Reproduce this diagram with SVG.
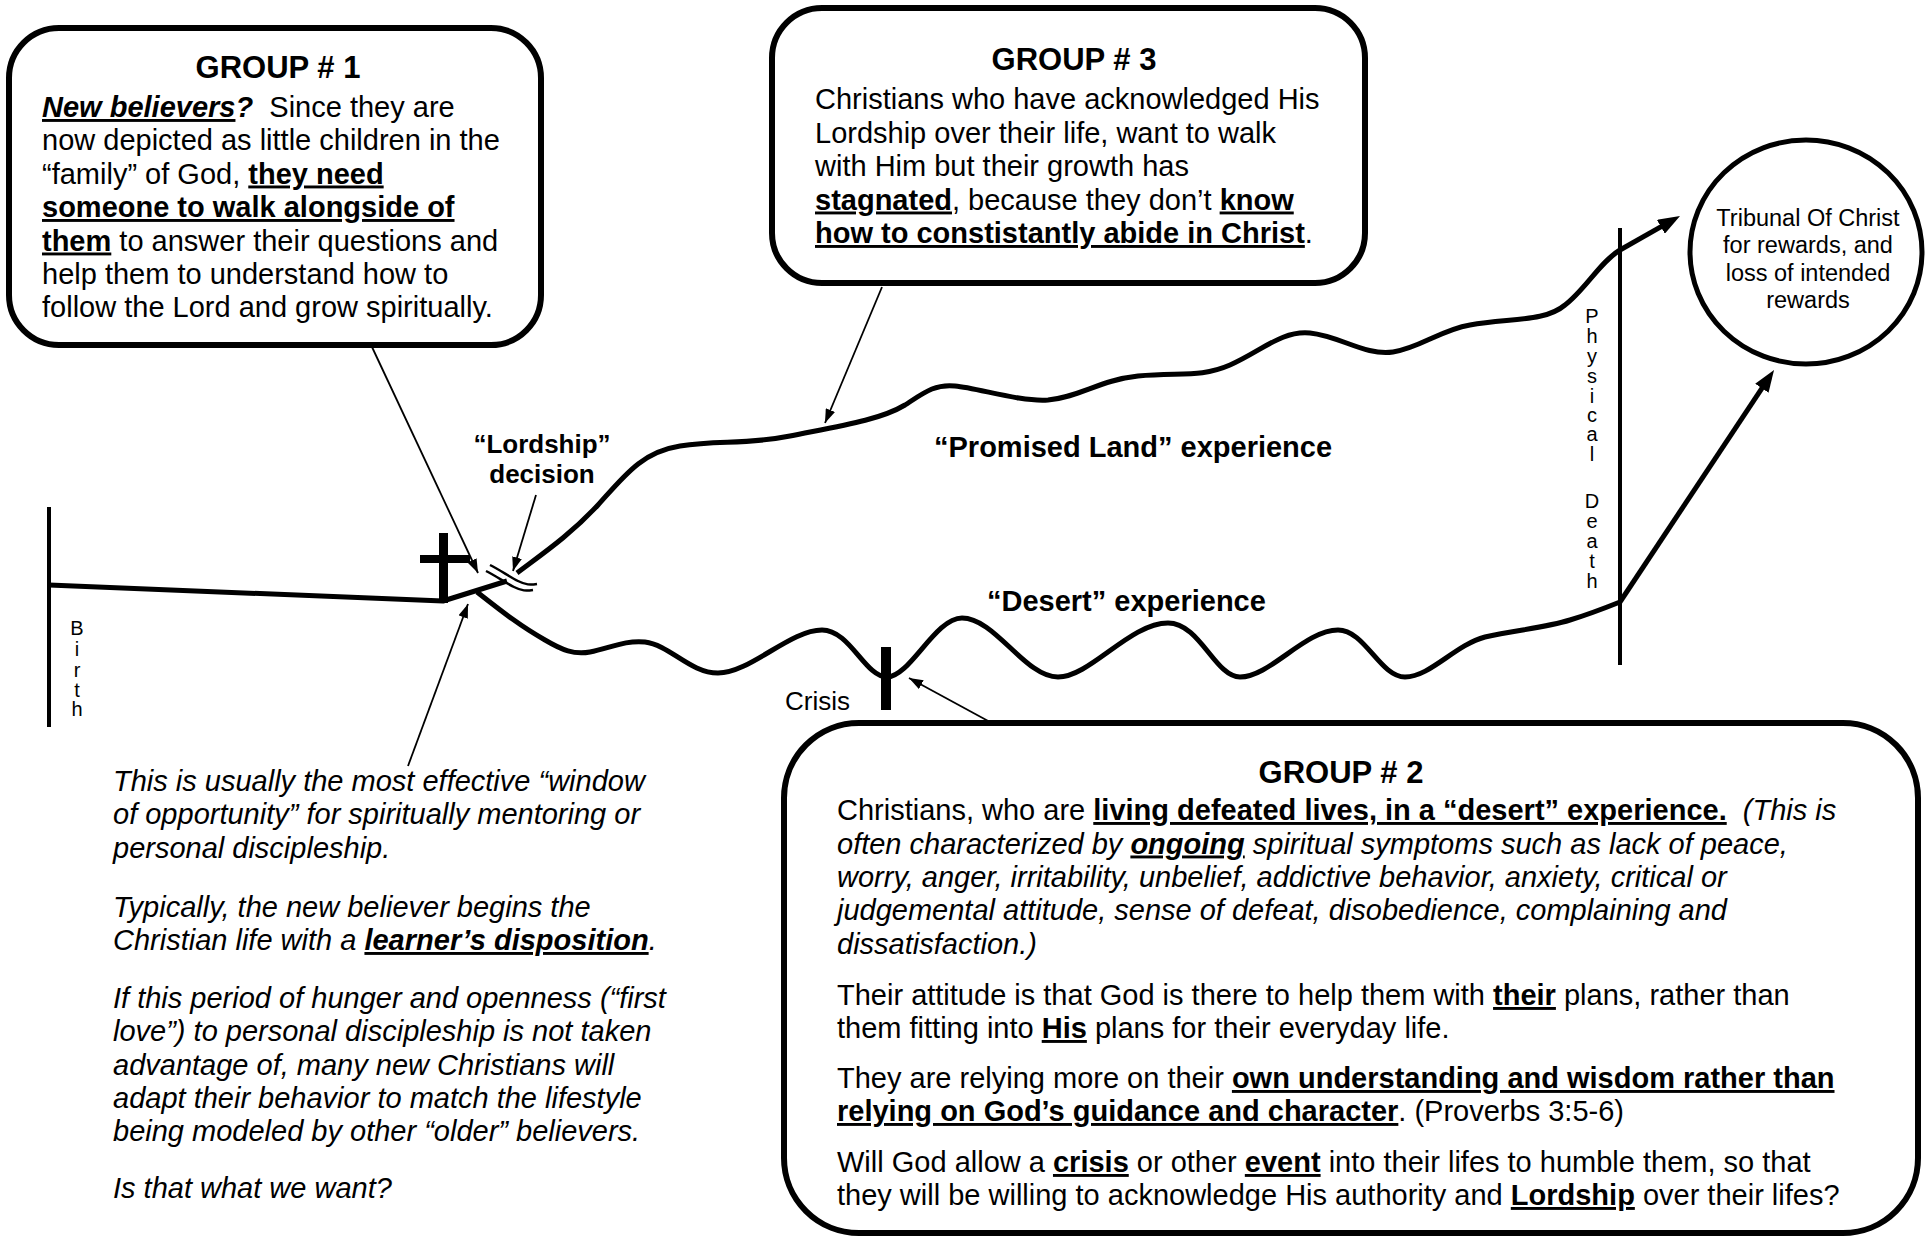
<svg xmlns="http://www.w3.org/2000/svg" width="1927" height="1238" viewBox="0 0 1927 1238">
<style>
text{font-family:"Liberation Sans",Arial,sans-serif;fill:#000}
.t{font-size:29px}
.h{font-size:31px;font-weight:bold;text-anchor:middle}
.b{font-weight:bold}
.i{font-style:italic}
.u{text-decoration:underline;text-decoration-thickness:3px}
.box{fill:#fff;stroke:#000;stroke-width:6}
.path{fill:none;stroke:#000;stroke-width:5;stroke-linejoin:round}
.thin{fill:none;stroke:#000;stroke-width:1.8}
.vl{font-size:20px;text-anchor:middle}
</style>
<defs>
<marker id="ah" viewBox="0 0 14 10" refX="14" refY="5" markerWidth="14" markerHeight="10" markerUnits="userSpaceOnUse" orient="auto"><path d="M0,0 L14,5 L0,10 z" fill="#000"/></marker>
<marker id="AH" viewBox="0 0 22 16" refX="12" refY="8" markerWidth="22" markerHeight="16" markerUnits="userSpaceOnUse" orient="auto"><path d="M0,0 L22,8 L0,16 z" fill="#000"/></marker>
</defs>
<rect width="1927" height="1238" fill="#fff"/>

<g id="birth">
<line x1="49" y1="507" x2="49" y2="727" stroke="#000" stroke-width="4"/>
<text class="vl"><tspan x="77" y="635">B</tspan><tspan x="77" y="656">i</tspan><tspan x="77" y="677">r</tspan><tspan x="77" y="697">t</tspan><tspan x="77" y="716">h</tspan></text>
</g>

<g id="death">
<line x1="1620" y1="228" x2="1620" y2="665" stroke="#000" stroke-width="4"/>
<text class="vl"><tspan x="1592" y="323">P</tspan><tspan x="1592" y="343">h</tspan><tspan x="1592" y="363">y</tspan><tspan x="1592" y="383">s</tspan><tspan x="1592" y="403">i</tspan><tspan x="1592" y="422">c</tspan><tspan x="1592" y="441">a</tspan><tspan x="1592" y="461">l</tspan><tspan x="1592" y="508">D</tspan><tspan x="1592" y="528">e</tspan><tspan x="1592" y="548">a</tspan><tspan x="1592" y="568">t</tspan><tspan x="1592" y="588">h</tspan></text>
</g>

<g id="connectors">
<path class="path" d="M49,585 L443,601 L507,581"/>
<path class="path" d="M517,573 C545,552 570,535 598,505 C625,475 642,452 680,446 C720,440 745,445 790,436 C840,426 880,420 905,405 C925,392 935,384 955,386 C978,388 1020,402 1048,400 C1080,397 1100,380 1138,376 C1180,372 1200,378 1230,365 C1260,352 1282,330 1310,333 C1340,336 1365,356 1393,352 C1420,348 1440,330 1470,325 C1510,318 1545,322 1565,305 C1585,290 1600,262 1620,250"/>
<path class="path" d="M477,592 C500,610 520,626 545,640 C562,650 574,655 590,652 C610,648 625,640 645,642 C670,645 690,673 718,673 C750,673 790,630 822,630 C850,630 865,677 887,677 C910,677 935,618 962,618 C995,618 1025,677 1058,677 C1090,677 1130,623 1168,623 C1200,623 1215,677 1240,677 C1270,677 1305,630 1338,630 C1365,630 1380,677 1405,677 C1430,677 1455,645 1485,637 C1515,630 1545,628 1570,620 C1590,614 1605,608 1620,602"/>
<line class="path" x1="1620" y1="250" x2="1671.3" y2="220.9" marker-end="url(#AH)"/>
<line class="path" x1="1620" y1="602" x2="1768.5" y2="378.3" marker-end="url(#AH)"/>
<path d="M490,565 C500,570 510,577 518,581 S530,585 537,584" fill="none" stroke="#000" stroke-width="2.5"/>
<path d="M486,571 C496,576 506,583 514,587 S526,591 533,590" fill="none" stroke="#000" stroke-width="2.5"/>
<line class="thin" x1="372" y1="347" x2="478" y2="573" marker-end="url(#ah)"/>
<line class="thin" x1="536" y1="495" x2="513" y2="571" marker-end="url(#ah)"/>
<line class="thin" x1="408" y1="766" x2="468" y2="604" marker-end="url(#ah)"/>
<line class="thin" x1="882" y1="287" x2="825" y2="423" marker-end="url(#ah)"/>
<line class="thin" x1="990" y1="722" x2="909" y2="678" marker-end="url(#ah)"/>
</g>

<g id="cross">
<rect x="439" y="533" width="9" height="70" fill="#000"/>
<rect x="420" y="555" width="50" height="8" fill="#000"/>
</g>

<g id="crisis">
<rect x="881" y="647" width="10" height="63" fill="#000"/>
<text class="t" x="785" y="710" style="font-size:26px">Crisis</text>
</g>

<g id="labels">
<text class="b" x="542" y="453" text-anchor="middle" style="font-size:26px">“Lordship”</text>
<text class="b" x="542" y="483" text-anchor="middle" style="font-size:26px">decision</text>
<text class="t b" x="934" y="457">“Promised Land” experience</text>
<text class="t b" x="987" y="611">“Desert” experience</text>
</g>

<g id="group1">
<rect class="box" x="9" y="28" width="532" height="317" rx="50"/>
<text class="h" x="278" y="78">GROUP # 1</text>
<text class="t" x="42" y="117"><tspan class="b i u">New believers</tspan><tspan class="b i">?</tspan>&#160; Since they are</text>
<text class="t" x="42" y="150">now depicted as little children in the</text>
<text class="t" x="42" y="183.5">“family” of God, <tspan class="b u">they need</tspan></text>
<text class="t" x="42" y="217"><tspan class="b u">someone to walk alongside of</tspan></text>
<text class="t" x="42" y="250.5"><tspan class="b u">them</tspan> to answer their questions and</text>
<text class="t" x="42" y="284">help them to understand how to</text>
<text class="t" x="42" y="317">follow the Lord and grow spiritually.</text>
</g>

<g id="group3">
<rect class="box" x="772" y="8" width="593" height="275" rx="50"/>
<text class="h" x="1074" y="70">GROUP # 3</text>
<text class="t" x="815" y="109">Christians who have acknowledged His</text>
<text class="t" x="815" y="142.5">Lordship over their life, want to walk</text>
<text class="t" x="815" y="176">with Him but their growth has</text>
<text class="t" x="815" y="209.5"><tspan class="b u">stagnated</tspan>, because they don’t <tspan class="b u">know</tspan></text>
<text class="t" x="815" y="243"><tspan class="b u">how to constistantly abide in Christ</tspan>.</text>
</g>

<g id="tribunal">
<ellipse cx="1806" cy="252" rx="116" ry="112" fill="#fff" stroke="#000" stroke-width="5"/>
<text x="1808" y="226" text-anchor="middle" style="font-size:23.5px">Tribunal Of Christ</text>
<text x="1808" y="253" text-anchor="middle" style="font-size:23.5px">for rewards, and</text>
<text x="1808" y="281" text-anchor="middle" style="font-size:23.5px">loss of intended</text>
<text x="1808" y="308" text-anchor="middle" style="font-size:23.5px">rewards</text>
</g>

<g id="window-note">
<text class="t i" x="113" y="791">This is usually the most effective “window</text>
<text class="t i" x="113" y="824">of opportunity” for spiritually mentoring or</text>
<text class="t i" x="113" y="858">personal discipleship.</text>
<text class="t i" x="113" y="917">Typically, the new believer begins the</text>
<text class="t i" x="113" y="950">Christian life with a <tspan class="b u">learner’s disposition</tspan>.</text>
<text class="t i" x="113" y="1008">If this period of hunger and openness (“first</text>
<text class="t i" x="113" y="1041">love”) to personal discipleship is not taken</text>
<text class="t i" x="113" y="1075">advantage of, many new Christians will</text>
<text class="t i" x="113" y="1108">adapt their behavior to match the lifestyle</text>
<text class="t i" x="113" y="1141">being modeled by other “older” believers.</text>
<text class="t i" x="113" y="1198">Is that what we want?</text>
</g>

<g id="group2">
<rect class="box" x="784" y="723" width="1134" height="510" rx="75"/>
<text class="h" x="1341" y="783">GROUP # 2</text>
<text class="t" x="837" y="820">Christians, who are <tspan class="b u">living defeated lives, in a “desert” experience.</tspan>&#160; <tspan class="i">(This is</tspan></text>
<text class="t i" x="837" y="853.5">often characterized by <tspan class="b u">ongoing</tspan> spiritual symptoms such as lack of peace,</text>
<text class="t i" x="837" y="887">worry, anger, irritability, unbelief, addictive behavior, anxiety, critical or</text>
<text class="t i" x="837" y="920">judgemental attitude, sense of defeat, disobedience, complaining and</text>
<text class="t i" x="837" y="953.5">dissatisfaction.)</text>
<text class="t" x="837" y="1005">Their attitude is that God is there to help them with <tspan class="b u">their</tspan> plans, rather than</text>
<text class="t" x="837" y="1038">them fitting into <tspan class="b u">His</tspan> plans for their everyday life.</text>
<text class="t" x="837" y="1088">They are relying more on their <tspan class="b u">own understanding and wisdom rather than</tspan></text>
<text class="t" x="837" y="1121"><tspan class="b u">relying on God’s guidance and character</tspan>. (Proverbs 3:5-6)</text>
<text class="t" x="837" y="1172">Will God allow a <tspan class="b u">crisis</tspan> or other <tspan class="b u">event</tspan> into their lifes to humble them, so that</text>
<text class="t" x="837" y="1205">they will be willing to acknowledge His authority and <tspan class="b u">Lordship</tspan> over their lifes?</text>
</g>
</svg>
